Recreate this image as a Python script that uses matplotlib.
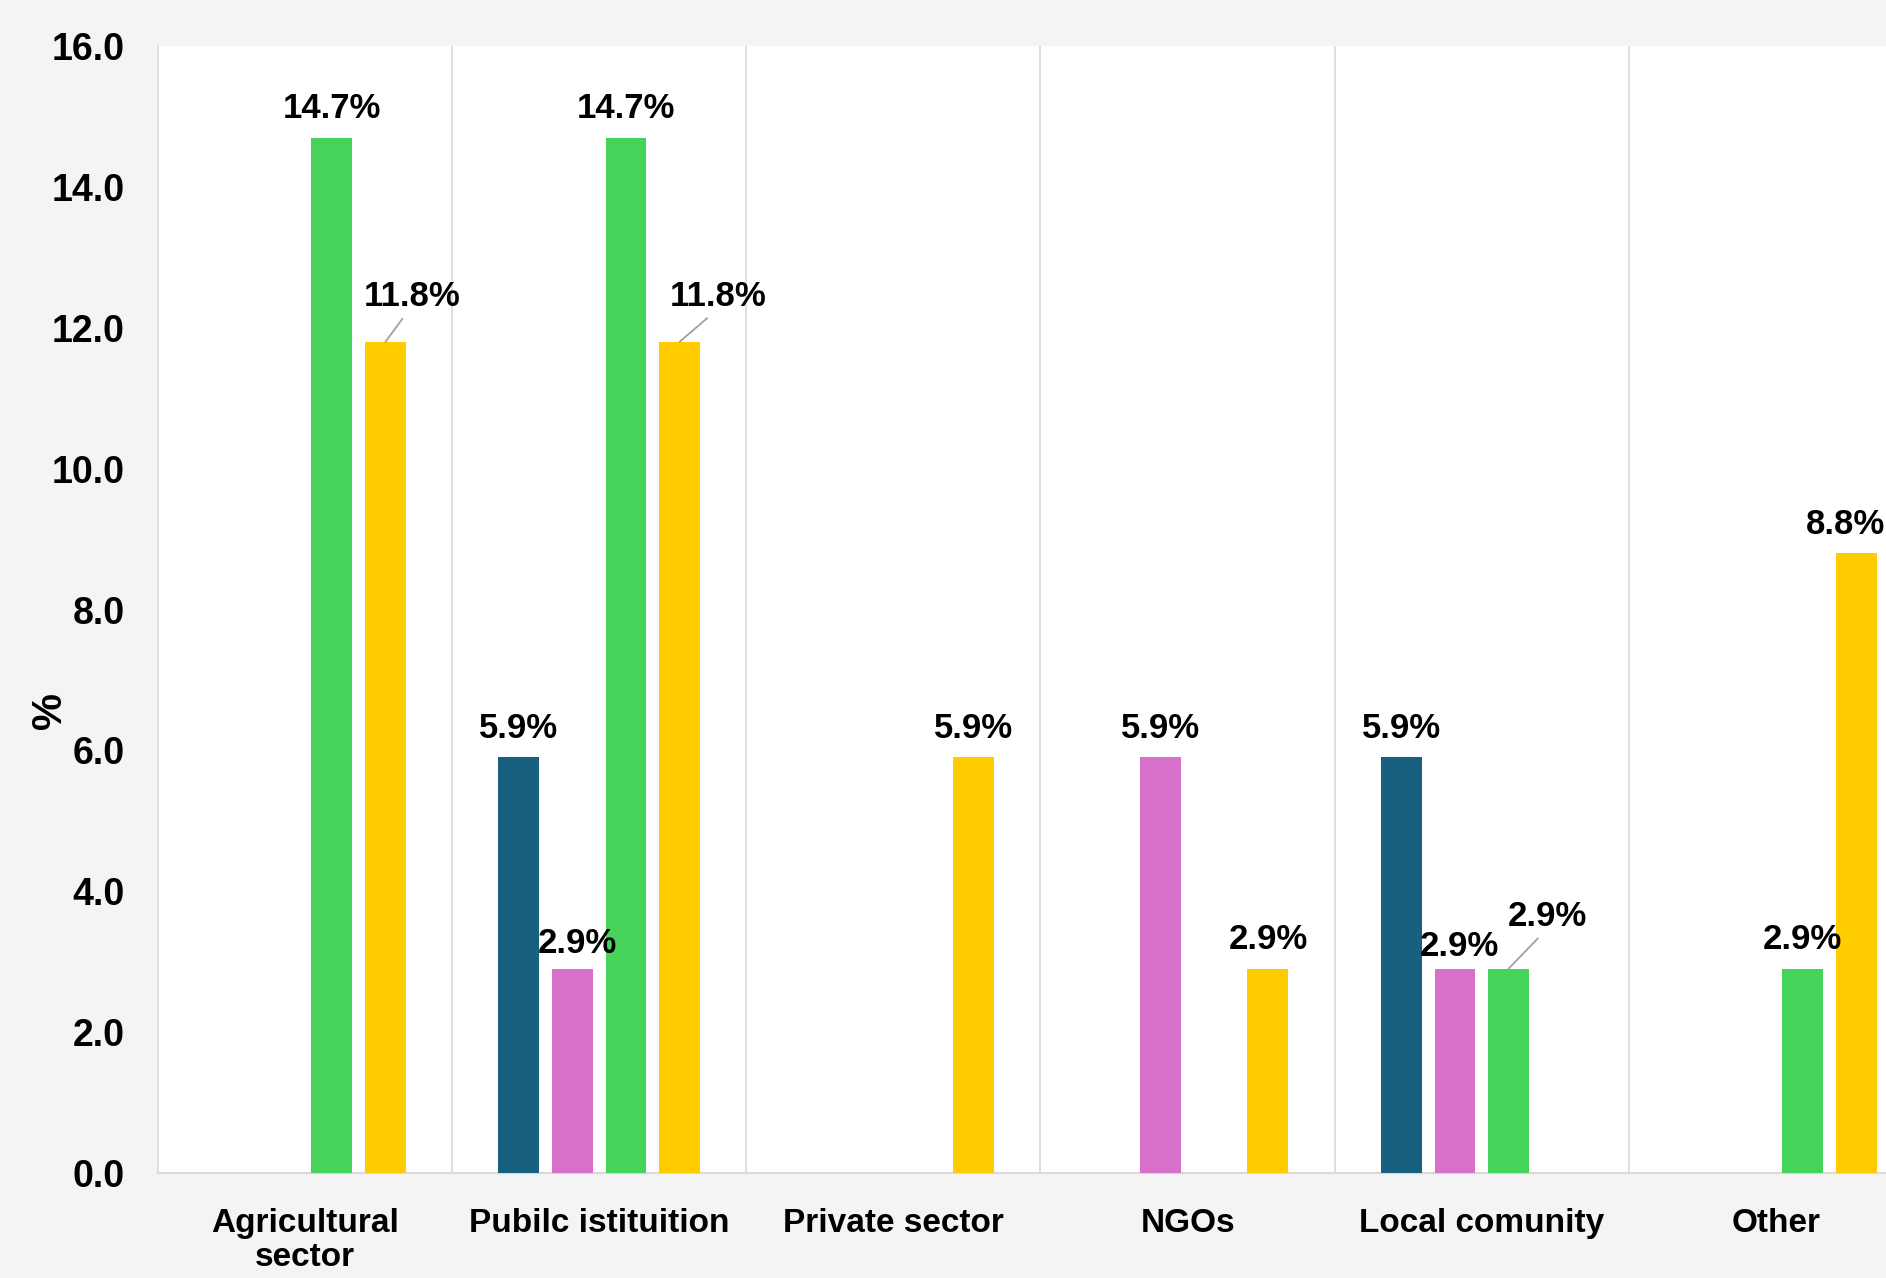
import matplotlib
matplotlib.use("Agg")
import matplotlib.pyplot as plt
import numpy as np

categories = ["Agricultural\nsector", "Pubilc istituition", "Private sector",
              "NGOs", "Local comunity", "Other"]
series_names = ["Series 1", "Series 2", "Series 3", "Series 4"]
s1 = [0.0, 5.9, 0.0, 0.0, 5.9, 0.0]
s2 = [0.0, 2.9, 0.0, 5.9, 2.9, 0.0]
s3 = [14.7, 14.7, 0.0, 0.0, 2.9, 2.9]
s4 = [11.8, 11.8, 5.9, 2.9, 0.0, 8.8]
colors = ["#17607F", "#D670C8", "#47D35A", "#FFCC00"]
yticks = [0, 2, 4, 6, 8, 10, 12, 14, 16]

plt.rcParams['font.family'] = ['Liberation Sans Narrow', 'Liberation Sans', 'DejaVu Sans']
plt.rcParams['font.weight'] = 'bold'

fig = plt.figure(figsize=(18.86, 12.78), dpi=100)
fig.patch.set_facecolor("#f4f4f4")
ax = fig.add_axes([158/1886, 1 - 1173/1278, (1923-158)/1886, (1173-46)/1278])
ax.set_facecolor("white")

series = [s1, s2, s3, s4]
x = np.arange(len(categories))
step = 0.182
width = 0.139
offsets = [-1.5, -0.5, 0.5, 1.5]

# leader-line labels: (series index, category index) -> offset in points
leader = {(3, 0): (19, 21), (3, 1): (28, 21), (2, 4): (28, 26)}
nudge = {(1, 1): (3.5, -2.5), (1, 4): (3.5, -5), (3, 5): (-8, 0)}

LBL = 25
for si, (vals, col) in enumerate(zip(series, colors)):
    xs = x + offsets[si] * step
    ax.bar(xs, vals, width=width, color=col, label=series_names[si], zorder=3)
    for ci, v in enumerate(vals):
        if v <= 0:
            continue
        lab = f"{v:.1f}%"
        if (si, ci) in leader:
            dx, dy = leader[(si, ci)]
            ax.annotate(lab, xy=(xs[ci], v), xytext=(dx, dy), textcoords="offset points",
                        ha="center", va="bottom", fontsize=LBL, fontweight="bold",
                        arrowprops=dict(arrowstyle="-", color="#a0a0a0", lw=1.3,
                                        shrinkA=3, shrinkB=0,
                                        relpos=(0.45, 0.0)),
                        zorder=5)
        else:
            dx, dy = nudge.get((si, ci), (0, 0))
            ax.annotate(lab, xy=(xs[ci], v), xytext=(dx, 9 + dy), textcoords="offset points",
                        ha="center", va="bottom", fontsize=LBL, fontweight="bold", zorder=5)

ax.set_xlim(-0.5, len(categories) - 0.5)
ax.set_ylim(0, 16)
ax.set_yticks(yticks)
ax.set_yticklabels([f"{t:.1f}" for t in yticks], fontsize=27, fontweight="bold")
ax.set_xticks(x)
ax.set_xticklabels(categories, fontsize=24, fontweight="bold", linespacing=1.15)
ax.tick_params(axis="both", length=0)
ax.tick_params(axis="y", pad=24)
ax.tick_params(axis="x", pad=25)

for b in np.arange(0.5, len(categories) - 0.5, 1.0):
    ax.axvline(b, color="#d9d9d9", lw=1.2, zorder=1)

for side in ["top", "right"]:
    ax.spines[side].set_visible(False)
ax.spines["left"].set_color("#d9d9d9")
ax.spines["bottom"].set_color("#d9d9d9")
ax.spines["left"].set_linewidth(1.2)
ax.spines["bottom"].set_linewidth(1.5)

ax.set_ylabel("%", fontsize=30, fontweight="bold")
ax.yaxis.set_label_coords(-0.050, 0.41)

fig.savefig("out.png", dpi=100, facecolor=fig.get_facecolor())
